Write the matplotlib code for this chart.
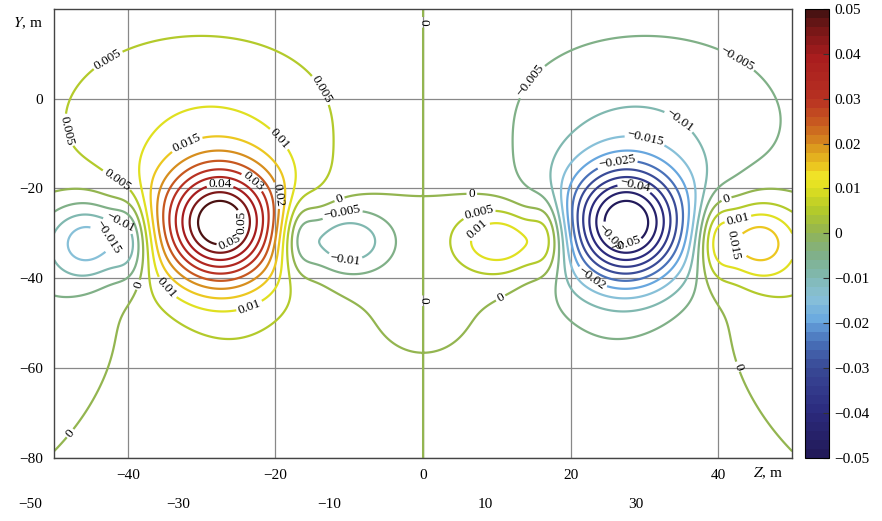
import numpy as np
import matplotlib.pyplot as plt
from matplotlib.colors import LinearSegmentedColormap, BoundaryNorm

plt.rcParams['font.family'] = ['Liberation Serif', 'DejaVu Serif']
plt.rcParams['mathtext.fontset'] = 'stix'

# --- field ---------------------------------------------------------------
# gaussian features of the left half (Z < 0); right half is the mirror with opposite sign
#        core    top     bottom  mid-    wall    far-    wall    tail    tail2
amp = [0.051, 0.009, 0.0035, -0.0165, -0.011, -0.019, -0.011, -0.004, -0.0008]
z0 = [-27.5, -30.0, -25.0, -11.0, -17.0, -45.0, -39.5, -52.0, -6.0]
y0 = [-28.0, -5.0, -55.0, -31.5, -30.0, -31.5, -31.0, -45.0, -45.0]
sz = [6.0, 17.0, 10.0, 5.0, 1.8, 4.5, 1.8, 7.0, 5.0]
sy = [9.5, 17.5, 20.0, 5.5, 6.5, 6.5, 6.5, 12.0, 9.0]

levels = np.round(np.arange(-0.05, 0.0501, 0.005), 3)
cbar_ticks = [-0.05, -0.04, -0.03, -0.02, -0.01, 0, 0.01, 0.02, 0.03, 0.04, 0.05]
x_ticks = [-40, -20, 0, 20, 40]
y_ticks = [0, -20, -40, -60, -80]
# stray second row of labels under the axis in the original
extra_labels = ["\u221250", "\u221230", "\u221210", "10", "30"]
extra_px = [30, 178, 329, 485, 636]

# colour stops of the colour bar
cb_vals = [-0.05, -0.04, -0.03, -0.025, -0.02, -0.015, -0.01, -0.005, 0.0,
           0.005, 0.01, 0.013, 0.015, 0.02, 0.025, 0.03, 0.04, 0.045, 0.05]
cb_cols = ['#221a5a', '#2c2c80', '#3a4c98', '#4870b8', '#68a8e0', '#88c0d8',
           '#80b8b0', '#80b088', '#92b452', '#b4ca2a', '#e0e020', '#f0e428',
           '#ecc820', '#d8901e', '#c85a20', '#b83222', '#a81c1e', '#801818', '#4a1212']

# label spots (Z, Y) for the contour numbers
label_pos = [(-42.4, 7.8), (-15.6, 0.2), (-46.7, -6.5), (-32.2, -9.4), (-19.8, -9.4),
             (-40.7, -16), (-27.5, -18.7), (-23, -18.3), (-20, -21.6), (-11.5, -21.6),
             (-11, -25), (-41, -27.2), (-42.7, -31), (-26.8, -27.6), (-26.5, -31),
             (-10.3, -32.8), (-39, -41.2), (-35.2, -42.8), (-23.8, -45), (-48.9, -73),
             (0, 17), (0, -45),
             (15.4, 2.9), (42, 7.4), (35.5, -3.1), (30, -9.4), (26.3, -14.3),
             (28.7, -19), (6.6, -20), (7.5, -25), (8.7, -31.7), (27.1, -28.3),
             (26.5, -31), (41.3, -23.4), (42.7, -27.2), (41.9, -32.8), (22.6, -40.6),
             (11.1, -46.2), (44, -58.9)]

# --- build grid -----------------------------------------------------------
z = np.linspace(-50, 50, 401)
y = np.linspace(-80, 20, 401)
Z, Y = np.meshgrid(z, y)
F = np.zeros_like(Z)
for a, zc, yc, wz, wy in zip(amp, z0, y0, sz, sy):
    F += a * np.exp(-((Z - zc) ** 2 / (2 * wz ** 2) + (Y - yc) ** 2 / (2 * wy ** 2)))
    F -= a * np.exp(-((-Z - zc) ** 2 / (2 * wz ** 2) + (Y - yc) ** 2 / (2 * wy ** 2)))

cmap = LinearSegmentedColormap.from_list(
    'jetlike', list(zip((np.array(cb_vals) + 0.05) / 0.1, cb_cols)), N=256)
bounds = np.linspace(-0.05, 0.05, 51)
norm = BoundaryNorm(bounds, cmap.N)

fig = plt.figure(figsize=(8.82, 5.21), dpi=100)
ax = fig.add_axes([0.0612, 0.121, 0.837, 0.862])
cax = fig.add_axes([0.913, 0.121, 0.027, 0.862])

cs = ax.contour(Z, Y, F, levels=levels, cmap=cmap,
                norm=plt.Normalize(-0.05, 0.05), linewidths=1.6)


def fmt(v):
    if abs(v - round(v)) < 1e-9:
        return ("%d" % round(v)).replace('-', '\u2212')
    s = ("%.3f" % v).rstrip('0')
    return s.replace('-', '\u2212')


ax.clabel(cs, manual=label_pos, inline=True, fmt=fmt, fontsize=9.5, colors='k',
          inline_spacing=2)

ax.set_xlim(-50, 50)
ax.set_ylim(-80, 20)
ax.set_xticks(x_ticks)
ax.set_yticks(y_ticks)
ax.set_xticklabels([fmt(v) for v in x_ticks])
ax.set_yticklabels([fmt(v) for v in y_ticks])
ax.tick_params(length=0, labelsize=11, pad=8)
ax.grid(True, color='#888888', linewidth=0.9)
ax.set_axisbelow(True)
for s in ax.spines.values():
    s.set_color('#444444')
    s.set_linewidth(1.0)

fig.text(13 / 882, 1 - 23 / 521, '$Y$, m', fontsize=11, va='center', ha='left')
fig.text(753 / 882, 1 - 473 / 521, '$Z$, m', fontsize=11, va='center', ha='left')
for lab, px in zip(extra_labels, extra_px):
    fig.text(px / 882, 1 - 505 / 521, lab, fontsize=11, ha='center', va='center')

sm = plt.cm.ScalarMappable(cmap=cmap, norm=norm)
cb = fig.colorbar(sm, cax=cax, ticks=cbar_ticks)
cb.ax.minorticks_off()
cb.ax.set_yticklabels([fmt(v) for v in cbar_ticks])
cb.ax.tick_params(labelsize=11, length=4, direction='in', color='#333333')
cb.outline.set_linewidth(0.8)

fig.savefig('out.png', dpi=100)
